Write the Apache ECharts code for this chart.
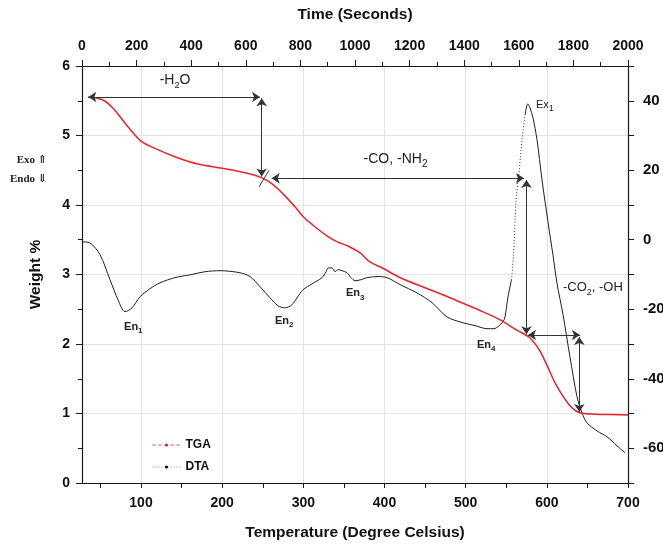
<!DOCTYPE html>
<html><head><meta charset="utf-8">
<script src="https://cdn.jsdelivr.net/npm/echarts@6/dist/echarts.min.js"></script>
<style>html,body{margin:0;padding:0;background:#fff}#c{width:663px;height:547px}</style>
</head><body><div id="c"></div>
<script>
// ---- data (temperature °C, weight %) ----
const tgaPoints = [
  [34.7,5.55],[45,5.54],[55,5.50],[65,5.40],[75,5.26],[85,5.11],[100,4.92],[120,4.80],[145,4.68],
  [170,4.59],[200,4.53],[230,4.46],[249,4.39],[262,4.30],[275,4.16],[290,3.97],[300,3.83],[315,3.68],
  [330,3.55],[342,3.47],[355,3.41],[370,3.31],[382,3.18],[398,3.09],[420,2.95],[450,2.81],[480,2.67],
  [500,2.57],[520,2.47],[542,2.35],[563,2.20],[579,2.09],[591,1.91],[600,1.70],[612,1.40],[628,1.12],
  [641,1.01],[660,0.99],[680,0.985],[700,0.98]
];
// ---- data (temperature °C, DTA µV) ----
const dtaPoints = [
  [27.5,-0.6],[37,-0.9],[49.5,-4.3],[61.8,-11.5],[71.7,-17.3],[80.3,-20.7],[88.9,-19.6],[98.8,-16.4],
  [111,-14.1],[123.4,-12.4],[141.9,-10.9],[160.3,-10.1],[178.8,-9.2],[197.3,-8.9],[222,-9.5],[234.3,-10.6],
  [246.6,-13.5],[258.9,-16.7],[268.8,-19.0],[277.4,-19.6],[286,-18.7],[292.2,-16.7],[299.6,-14.4],
  [310.7,-12.7],[323,-10.9],[328,-9.2],[330.5,-8.1],[335.4,-8.1],[339.1,-9.2],[342.8,-8.6],[347.7,-8.9],
  [353.9,-9.5],[358.8,-10.9],[363.7,-11.8],[371.1,-11.5],[378.5,-10.9],[392,-10.6],[403.1,-10.9],
  [419.1,-12.9],[440,-15.3],[458.5,-18.1],[477,-22.2],[496.7,-23.9],[511.5,-24.7],[526.3,-25.6],
  [534.9,-25.6],[539.8,-25.0],[546,-23.6],[548.5,-22.2],[552.2,-16.4],[556.5,-11.5],[559.0,-4.3],
  [562.1,11.5],[565.8,19.6],[569.5,28.8],[573.2,36.0],[576.5,39.1],[579.2,38.0],[582.9,35.1],
  [587.9,28.8],[594.0,17.3],[601.5,5.0],[607.6,-4.5],[612.5,-12.5],[619.9,-21.5],[628.5,-33.7],
  [637.2,-45.2],[643.3,-49.8],[649.5,-52.7],[661.8,-55.0],[674.1,-56.7],[686.5,-59.3],[696.3,-61.3]
];
const dtaDottedRange = [556.5, 573.2];
const bottomTickValues = [50,100,150,200,250,300,350,400,450,500,550,600,650,700];

// ---- annotations (data coordinates) ----
const weightArrows = [
  [[35.1,5.554],[246.6,5.554]],
  [[248.7,5.535],[248.7,4.41]],
  [[261.0,4.384],[571.8,4.384]],
  [[574.9,2.14],[574.9,4.36]],
  [[576.8,2.13],[640.8,2.13]],
  [[640.0,2.10],[640.0,1.02]]
];
const weightSlash = [[245.4,4.26],[257.7,4.50]];
const weightNotes = [
  {text:'-H{s|2}O', at:[141.9,5.80], align:'center', size:14, sub:9},
  {text:'-CO, -NH{s|2}', at:[413.6,4.66], align:'center', size:14, sub:10},
  {text:'-CO{s|2}, -OH', at:[619.9,2.81], align:'left', size:13, sub:9}
];
const dtaNotes = [
  {text:'Ex{s|1}', at:[586.6,38.8], align:'left', size:11, sub:9},
  {text:'En{s|1}', at:[79.1,-25.0], align:'left', size:11, sub:8, bold:true},
  {text:'En{s|2}', at:[265.1,-23.3], align:'left', size:11, sub:8, bold:true},
  {text:'En{s|3}', at:[352.6,-15.3], align:'left', size:11, sub:8, bold:true},
  {text:'En{s|4}', at:[514.0,-30.2], align:'left', size:11, sub:8, bold:true}
];

const FONT = 'Liberation Sans, Arial, sans-serif';
const AX = '#1a1a1a';
const labelStyle = {fontFamily:FONT, fontWeight:'bold', fontSize:14, color:'#111'};
const nameStyle = {fontFamily:FONT, fontWeight:'bold', fontSize:15.5, color:'#111'};

const dtaMain = dtaPoints.map(p => (p[0] > dtaDottedRange[0] && p[0] < dtaDottedRange[1]) ? [p[0], null] : p);
const dtaDotted = dtaPoints.filter(p => p[0] >= dtaDottedRange[0] && p[0] <= dtaDottedRange[1]);

const chart = echarts.init(document.getElementById('c'), null, {renderer:'canvas'});
const option = {
  animation: false,
  backgroundColor: '#fff',
  grid: {left:82, right:35, top:66, bottom:64, containLabel:false, outerBoundsMode:'none'},
  legend: {
    data: [
      {name:'TGA', lineStyle:{type:[3,3], width:1, color:'#e8424a'}, itemStyle:{color:'#d81e28'}},
      {name:'DTA', lineStyle:{type:[1,2], width:1, color:'#888'}, itemStyle:{color:'#111'}}
    ],
    orient:'vertical', left:152, top:439, padding:0, itemWidth:28, itemHeight:4, itemGap:10, textGap:4,
    selectedMode:false,
    textStyle:{fontFamily:FONT, fontWeight:'bold', fontSize:12, color:'#111'}
  },
  xAxis: [
    {
      type:'value', position:'bottom', min:27.3, max:700, splitNumber:7, minInterval:100, maxInterval:100,
      name:'Temperature (Degree Celsius)', nameLocation:'middle', nameGap:42, nameTextStyle:nameStyle,
      axisLine:{show:true, onZero:false, lineStyle:{color:AX, width:1.2}},
      axisTick:{show:false},
      axisLabel:Object.assign({margin:13, formatter:v => (Math.abs(v % 100) < 1e-6 ? String(v) : '')}, labelStyle),
      splitLine:{show:true, lineStyle:{color:'#e2e2ea', width:1}}
    },
    {
      type:'value', position:'top', min:0, max:2000, interval:200,
      name:'Time (Seconds)', nameLocation:'middle', nameGap:43, nameTextStyle:nameStyle,
      axisLine:{show:true, onZero:false, lineStyle:{color:AX, width:1.2}},
      axisTick:{show:true, length:6, lineStyle:{color:AX}},
      minorTick:{show:true, splitNumber:2, length:4, lineStyle:{color:AX}},
      axisLabel:Object.assign({margin:13, formatter:v => String(v)}, labelStyle),
      splitLine:{show:false}
    },
    {
      type:'value', position:'bottom', min:27.3, max:700,
      axisLine:{show:false, onZero:false},
      axisTick:{show:true, length:5, customValues:bottomTickValues, lineStyle:{color:AX}},
      axisLabel:{show:false},
      splitLine:{show:false}
    }
  ],
  yAxis: [
    {
      type:'value', position:'left', min:0, max:6, interval:1,
      name:'Weight %', nameLocation:'middle', nameGap:38, nameTextStyle:nameStyle,
      axisLine:{show:true, onZero:false, lineStyle:{color:AX, width:1.2}},
      axisTick:{show:true, length:6, lineStyle:{color:AX}},
      minorTick:{show:true, splitNumber:2, length:4, lineStyle:{color:AX}},
      axisLabel:Object.assign({margin:12}, labelStyle),
      splitLine:{show:true, lineStyle:{color:'#e2e2ea', width:1}}
    },
    {
      type:'value', position:'right', min:-70, max:50, interval:10,
      axisLine:{show:true, onZero:false, lineStyle:{color:AX, width:1.2}},
      axisTick:{show:true, length:6, lineStyle:{color:AX}},
      axisLabel:Object.assign({}, labelStyle, {fontSize:15, margin:15, formatter:v => (v % 20 === 0 ? String(v) : '')}),
      splitLine:{show:false}
    }
  ],
  series: [
    {
      name:'DTA', type:'line', xAxisIndex:0, yAxisIndex:1, data:dtaMain,
      smooth:0.3, connectNulls:false, symbol:'circle', symbolSize:3, showSymbol:false,
      lineStyle:{color:'#1e1e1e', width:1}, itemStyle:{color:'#111'}, z:2
    },
    {
      name:'DTA-rise', type:'line', xAxisIndex:0, yAxisIndex:1, data:dtaDotted,
      smooth:0.3, symbol:'none', lineStyle:{color:'#333', width:1, type:[1,2]}, z:2
    },
    {
      name:'TGA', type:'line', xAxisIndex:0, yAxisIndex:0, data:tgaPoints,
      smooth:0.3, symbol:'circle', symbolSize:3, showSymbol:false,
      lineStyle:{color:'#e5242c', width:1.5}, itemStyle:{color:'#d81e28'}, z:3,
      markLine:{
        silent:true, animation:false, symbol:['arrow','arrow'], symbolSize:8,
        label:{show:false}, emphasis:{disabled:true},
        lineStyle:{color:'#333', width:1, type:'solid'},
        data: weightArrows.map(a => [{coord:a[0]}, {coord:a[1]}]).concat([
          [{coord:weightSlash[0], symbol:'none'}, {coord:weightSlash[1], symbol:'none'}]
        ])
      }
    }
  ]
};
chart.setOption(option);

function noteEl(n, p) {
  const w = n.bold ? 'bold' : 'normal';
  return {
    type:'text', x:p[0], y:p[1], silent:true, z:10,
    style:{
      text:n.text, align:n.align, verticalAlign:'middle',
      fontSize:n.size, fontFamily:FONT, fontWeight:w, fill:'#222', lineHeight:n.size + 6,
      rich:{s:{fontSize:n.sub, fontFamily:FONT, fontWeight:w, fill:'#222', lineHeight:n.sub - 1, verticalAlign:'bottom'}}
    }
  };
}
const g = [];
weightNotes.forEach(n => g.push(noteEl(n, chart.convertToPixel({xAxisIndex:0, yAxisIndex:0}, n.at))));
dtaNotes.forEach(n => g.push(noteEl(n, chart.convertToPixel({xAxisIndex:0, yAxisIndex:1}, n.at))));
g.push({type:'text', x:47, y:160, silent:true,
  style:{text:'Exo \u21D1', align:'right', verticalAlign:'middle', fontSize:11, fontFamily:'Liberation Serif, DejaVu Serif, serif', fontWeight:'bold', fill:'#222'}});
g.push({type:'text', x:47, y:179, silent:true,
  style:{text:'Endo \u21D3', align:'right', verticalAlign:'middle', fontSize:11, fontFamily:'Liberation Serif, DejaVu Serif, serif', fontWeight:'bold', fill:'#222'}});
chart.setOption({graphic:g});
</script>
</body></html>
